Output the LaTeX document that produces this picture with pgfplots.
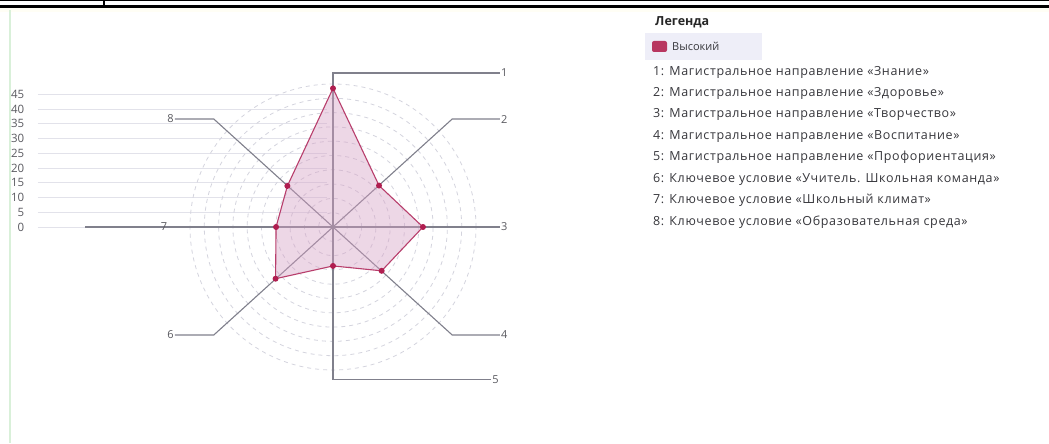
\documentclass[border=0pt]{standalone}
\usepackage{pgfplots}
\pgfplotsset{compat=1.18}
\usepackage{fontspec}
\setmainfont{Open Sans}
\newfontfamily\legfont[LetterSpace=5]{Open Sans}
\definecolor{spoke}{RGB}{128,128,140}
\definecolor{ringc}{RGB}{212,212,222}
\definecolor{gridc}{RGB}{226,226,234}
\definecolor{radline}{RGB}{184,62,108}
\definecolor{radmark}{RGB}{176,30,80}
\definecolor{radfill}{RGB}{214,160,196}
\definecolor{txt}{RGB}{55,55,60}
\definecolor{lblc}{RGB}{90,90,96}
\definecolor{lav}{RGB}{238,238,248}
\definecolor{swatch}{RGB}{184,54,96}
\begin{document}
\begin{tikzpicture}
% page background (px -> pt: x = px-333, y = 227-py)
\fill[white] (-333pt,-216pt) rectangle (716pt,227pt);
\fill[black] (-333pt,219.3pt) rectangle (716pt,222.3pt);
\fill[black] (-333pt,226pt) rectangle (716pt,227pt);
\fill[black] (-230pt,222pt) rectangle (-228pt,227pt);
\fill[yellow!4] (-333pt,215pt) rectangle (716pt,219.3pt);
\draw[green!60!black!15, line width=1.4pt] (-323pt,-216pt) -- (-323pt,217pt);
\begin{axis}[
  anchor=origin, at={(0pt,0pt)},
  x=2.95pt, y=2.95pt,
  xmin=-100, xmax=60, ymin=-55, ymax=55,
  clip=false,
  axis x line=none,
  axis y line*=left,
  y axis line style={draw=none},
  major tick length=0pt,
  ytick={0,5,...,45},
  /pgf/number format/assume math mode=true,
  yticklabel style={anchor=east, inner sep=0pt, xshift=-13.5pt,
    font=\fontsize{11.5}{13}\selectfont, text=lblc},
]
% horizontal scale lines
\pgfplotsinvokeforeach{0,5,...,45}{
  \draw[gridc, line width=0.8pt] (axis cs:-100,#1) -- (axis cs:-2,#1);
}
% dashed rings
\pgfplotsinvokeforeach{1,...,10}{
  \draw[ringc, line width=0.8pt, dash pattern=on 4pt off 4pt] (axis cs:0,0) circle[radius=#1*14.3pt];
}
% spokes with elbows
\addplot[spoke, line width=1.1pt] coordinates {(0,0) (0,52.2) (56.6,52.2)};
\addplot[spoke, line width=1.1pt] coordinates {(0,0) (40.4,36.6) (56.6,36.6)};
\addplot[spoke, line width=1.1pt] coordinates {(0,0) (56.6,0)};
\addplot[spoke, line width=1.1pt] coordinates {(0,0) (40.4,-36.6) (56.6,-36.6)};
\addplot[spoke, line width=1.1pt] coordinates {(0,0) (0,-51.7) (53.6,-51.7)};
\addplot[spoke, line width=1.1pt] coordinates {(0,0) (-40.4,-36.6) (-53.6,-36.6)};
\addplot[spoke, line width=1.1pt] coordinates {(0,0) (-84,0)};
\addplot[spoke, line width=1.1pt] coordinates {(0,0) (-40.4,36.6) (-53.6,36.6)};
% spoke labels
\begin{scope}[every node/.style={font=\fontsize{11}{13}\selectfont, text=lblc, inner sep=1pt}]
\node[anchor=west] at (axis cs:56.6,52.2) {1};
\node[anchor=west] at (axis cs:56.6,36.6) {2};
\node[anchor=west] at (axis cs:56.6,0) {3};
\node[anchor=west] at (axis cs:56.6,-36.6) {4};
\node[anchor=west] at (axis cs:53.6,-51.7) {5};
\node[anchor=east] at (axis cs:-53.6,-36.6) {6};
\node at (axis cs:-57.3,0) {7};
\node[anchor=east] at (axis cs:-53.6,36.6) {8};
\end{scope}
% radar series (polar: angle, value)
\addplot[data cs=polar, draw=radline, line width=1.1pt, fill=radfill, fill opacity=0.42,
  mark=*, mark size=2.4pt, mark options={fill=radmark, draw=radmark, fill opacity=1}]
  coordinates {(90,47) (42,21) (0,30.5) (-42,22.2) (-90,13.2) (-138,26.2) (180,19.3) (138,20.8)} -- cycle;
\end{axis}
% legend
\node[anchor=west, inner sep=0pt, font=\fontsize{12.5}{14}\selectfont\bfseries, text=black!85] at (322pt,204.3pt) {Легенда};
\fill[lav] (312pt,167pt) rectangle (429pt,194pt);
\fill[swatch, rounded corners=2pt] (319pt,175pt) rectangle (334pt,186pt);
\node[anchor=west, inner sep=0pt, font=\fontsize{11}{12}\selectfont, text=txt] at (339pt,181pt) {Высокий};
\begin{scope}[every node/.style={anchor=west, inner sep=0pt, font=\legfont\fontsize{12.5}{14}\selectfont, text=txt}]
\node at (320pt,155.0pt) {1: Магистральное направление «Знание»};
\node at (320pt,133.6pt) {2: Магистральное направление «Здоровье»};
\node at (320pt,112.2pt) {3: Магистральное направление «Творчество»};
\node at (320pt,90.8pt) {4: Магистральное направление «Воспитание»};
\node at (320pt,69.4pt) {5: Магистральное направление «Профориентация»};
\node at (320pt,48.0pt) {6: Ключевое условие «Учитель. Школьная команда»};
\node at (320pt,26.6pt) {7: Ключевое условие «Школьный климат»};
\node at (320pt,5.2pt) {8: Ключевое условие «Образовательная среда»};
\end{scope}
\end{tikzpicture}
\end{document}
